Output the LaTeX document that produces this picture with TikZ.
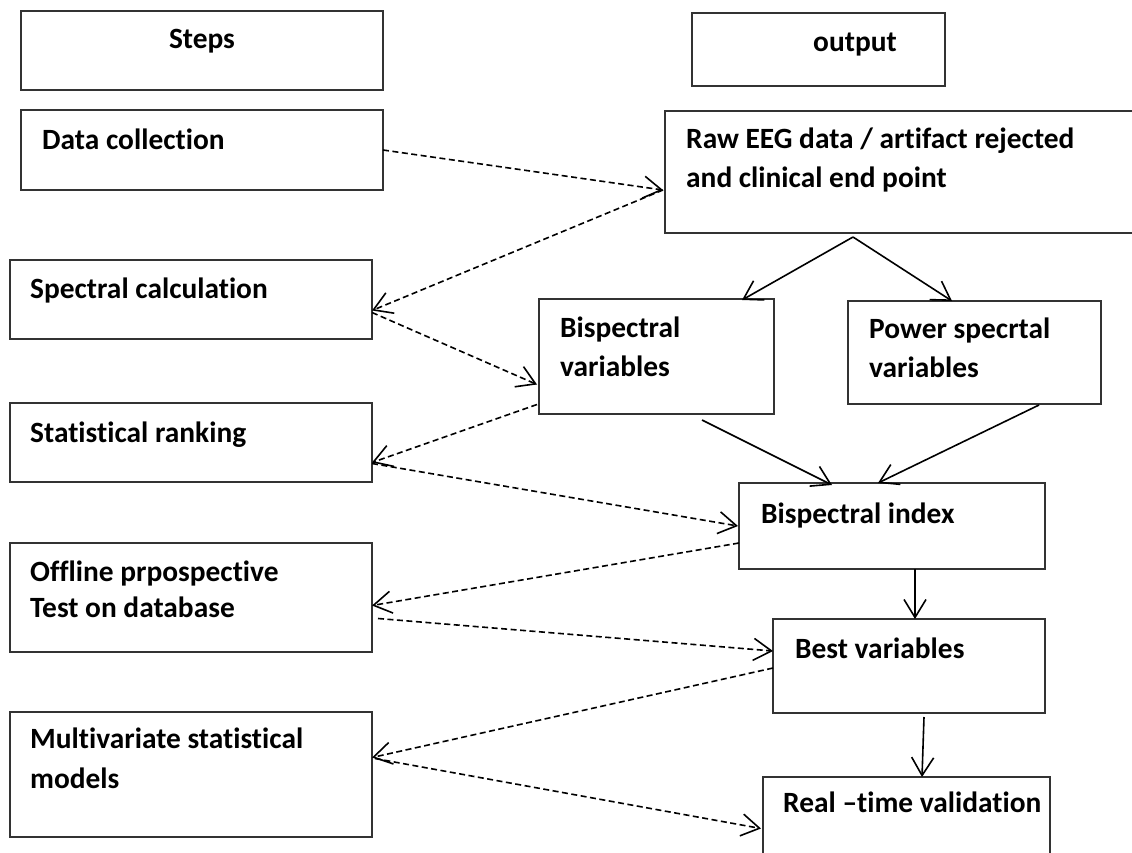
\documentclass[tikz,border=0pt]{standalone}
\usepackage{fontspec}
\setmainfont{Carlito}[Ligatures=NoCommon]
\usetikzlibrary{arrows.meta}
\newcommand\twolines[3]{{\fontsize{29.4}{#1}\selectfont\begin{tabular}[t]{@{}l@{}}#2\\#3\end{tabular}}}
\tikzset{
  box/.style={draw=black!80, line width=1.6pt, fill=white, rectangle, inner sep=0pt, outer sep=0pt, anchor=north west},
  lbl/.style={anchor=base west, inner sep=0pt, font=\fontsize{29.4}{38}\selectfont\bfseries},
  flow/.style={draw=black, line width=1.6pt, -{Straight Barb[length=18pt,width=22pt,line width=1.6pt]}},
  dflow/.style={flow, dash pattern=on 6pt off 3.5pt},
}
\begin{document}
\begin{tikzpicture}[x=1pt,y=-1pt]
\useasboundingbox (0,0) rectangle (1132,852);
\fill[white] (0,0) rectangle (1132,852);

% boxes
\node[box, minimum width=362pt, minimum height=79pt]  (steps) at (21,11) {};
\node[box, minimum width=253pt, minimum height=73pt]  (output) at (692,13) {};
\node[box, minimum width=362pt, minimum height=80pt]  (data) at (21,110) {};
\node[box, minimum width=475pt, minimum height=122pt] (raw) at (665,111) {};
\node[box, minimum width=362pt, minimum height=79pt]  (spec) at (10,260) {};
\node[box, minimum width=235pt, minimum height=115pt] (bvar) at (539,299) {};
\node[box, minimum width=253pt, minimum height=103pt] (pvar) at (848,301) {};
\node[box, minimum width=362pt, minimum height=79pt]  (stat) at (10,403) {};
\node[box, minimum width=306pt, minimum height=86pt]  (bidx) at (739,483) {};
\node[box, minimum width=362pt, minimum height=109pt] (off) at (10,543) {};
\node[box, minimum width=272pt, minimum height=94pt]  (best) at (773,619) {};
\node[box, minimum width=362pt, minimum height=125pt] (multi) at (10,712) {};
\node[box, minimum width=287pt, minimum height=103pt] (real) at (763,777) {};

% texts
\node[lbl, anchor=base] (tsteps) at (202,48) {Steps};
\node[lbl] (toutput) at (813,51) {output};
\node[lbl] (tdata) at (42,149) {Data collection};
\node[lbl] (traw) at (686,148) {\twolines{39}{Raw EEG data / artifact rejected}{and clinical end point}};
\node[lbl] (tspec) at (30,298) {Spectral calculation};
\node[lbl] (tbvar) at (560,337) {\twolines{39}{Bispectral}{variables}};
\node[lbl] (tpvar) at (869,338) {\twolines{39}{Power specrtal}{variables}};
\node[lbl] (tstat) at (30,442) {Statistical ranking};
\node[lbl] (tbidx) at (761,523) {Bispectral index};
\node[lbl] (toff) at (30,581) {\twolines{36}{Offline prpospective}{Test on database}};
\node[lbl] (tbest) at (795,658) {Best variables};
\node[lbl] (tmulti) at (30,748) {\twolines{40}{Multivariate statistical}{models}};
\node[lbl] (treal) at (783,812) {Real \textendash time validation};

% solid connectors
\coordinate (split) at ([xshift=188pt,yshift=-4pt]raw.south west);
\draw[flow] (split) -- ([xshift=203pt,yshift=-1pt]bvar.north west);
\draw[flow] (split) -- ([xshift=104pt]pvar.north west);
\draw[flow] ([xshift=163pt,yshift=-6pt]bvar.south west) -- ([xshift=93pt,yshift=-2pt]bidx.north west);
\draw[flow] ([xshift=191pt,yshift=-1pt]pvar.south west) -- ([xshift=139pt]bidx.north west);
\draw[flow] ([xshift=176pt]bidx.south west) -- ([xshift=142pt]best.north west);
\draw[flow] ([xshift=151pt,yshift=-4pt]best.south west) -- ([xshift=159pt]real.north west);

% dashed connectors
\coordinate (rawin) at ([xshift=-2pt,yshift=-18pt]raw.west);
\draw[dflow] (data.east) -- (rawin);
\draw[dflow] (rawin) -- ([yshift=-11pt]spec.east);
\draw[dflow] ([yshift=-13pt]spec.east) -- ([xshift=-2pt,yshift=-28pt]bvar.west);
\draw[dflow] ([xshift=-2pt,yshift=-48pt]bvar.west) -- ([yshift=-20pt]stat.east);
\draw[dflow] ([yshift=-21pt]stat.east) -- ([xshift=-1pt]bidx.west);
\draw[dflow] ([yshift=-17pt]bidx.west) -- ([yshift=-8pt]off.east);
\draw[dflow] ([xshift=6pt,yshift=-21pt]off.east) -- ([yshift=15pt]best.west);
\draw[dflow] ([yshift=-2pt]best.west) -- ([yshift=17pt]multi.east);
\draw[dflow] ([xshift=3pt,yshift=16pt]multi.east) -- ([xshift=-2pt]real.west);
\end{tikzpicture}
\end{document}
